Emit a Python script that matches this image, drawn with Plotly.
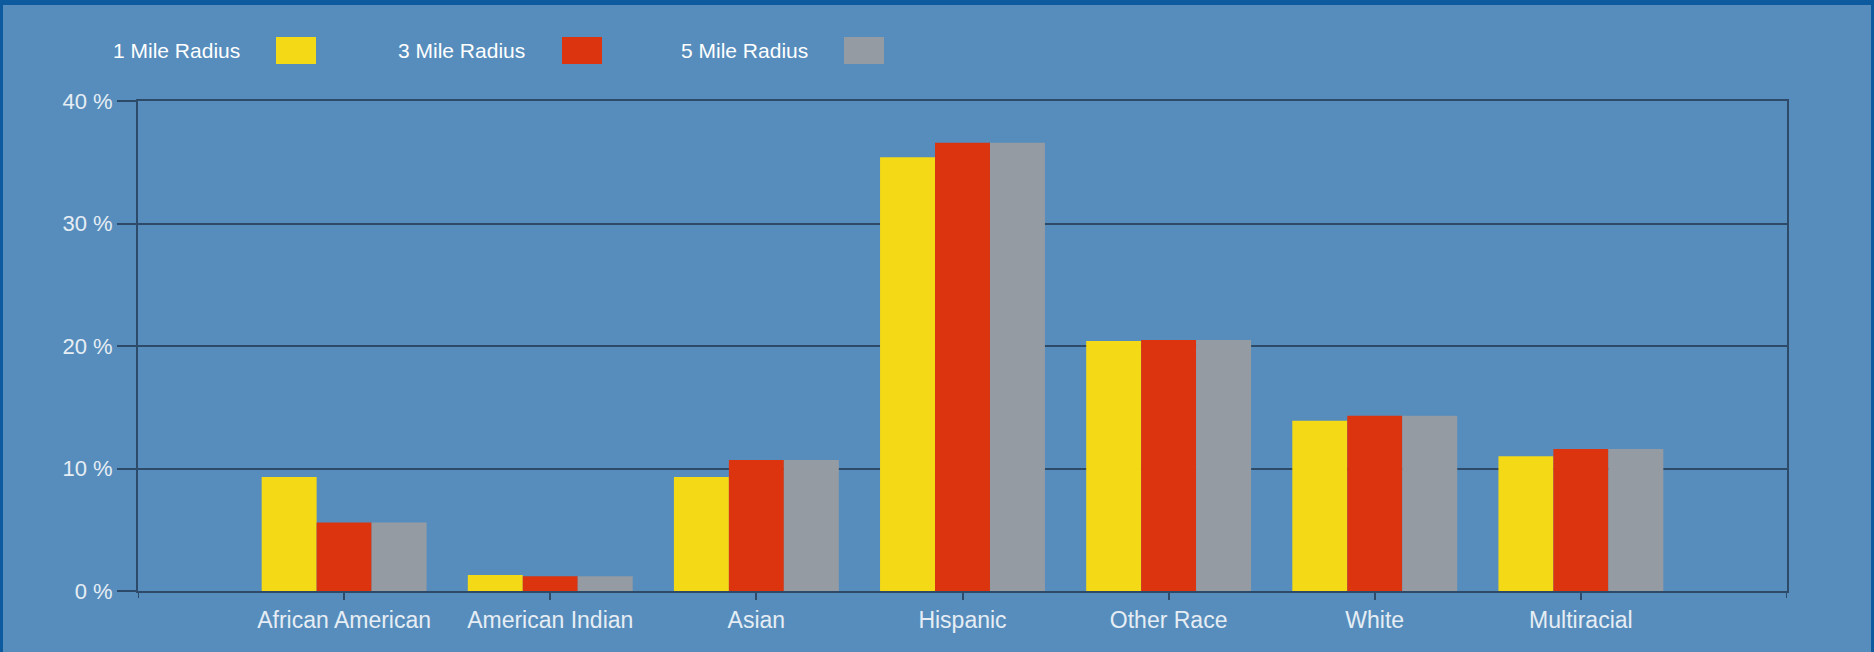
import plotly.graph_objects as go

categories = ["African American", "American Indian", "Asian", "Hispanic",
              "Other Race", "White", "Multiracial"]
mile1 = [9.3, 1.3, 9.3, 35.4, 20.4, 13.9, 11.0]
mile3 = [5.6, 1.2, 10.7, 36.6, 20.5, 14.3, 11.6]
mile5 = [5.6, 1.2, 10.7, 36.6, 20.5, 14.3, 11.6]
series_names = ["1 Mile Radius", "3 Mile Radius", "5 Mile Radius"]
series_colors = ["#f3d916", "#db340e", "#959ba3"]
y_ticks = [0, 10, 20, 30, 40]
y_tick_labels = ["0 %", "10 %", "20 %", "30 %", "40 %"]

W, H = 1874, 652
L, R, T, B = 138, 87, 101, 61
BG = "#568dbc"
DARK = "#2d4b68"
TXT = "#e6edf4"
FONT = "Liberation Sans, Arial, sans-serif"

X0, X1 = L, W - R
Y1, Y0 = T, H - B


def px(x):
    return (x - X0) / (X1 - X0)


def py(y):
    return (Y0 - y) / (Y0 - Y1)


fig = go.Figure()
for name, vals, col in zip(series_names, [mile1, mile3, mile5], series_colors):
    fig.add_trace(go.Bar(x=categories, y=vals, name=name,
                         marker=dict(color=col, line=dict(width=0))))

shapes = []
annotations = []

# page borders
shapes.append(dict(type="rect", xref="paper", yref="paper", x0=px(0), x1=px(W),
                   y0=py(5), y1=py(0), fillcolor="#0e5a9e", line=dict(width=0)))
shapes.append(dict(type="rect", xref="paper", yref="paper", x0=px(0), x1=px(3),
                   y0=py(H), y1=py(0), fillcolor="#0e5a9e", line=dict(width=0)))
shapes.append(dict(type="rect", xref="paper", yref="paper", x0=px(W - 3), x1=px(W),
                   y0=py(H), y1=py(0), fillcolor="#0e5a9e", line=dict(width=0)))

# edge ticks on x axis
for xv in [-1, len(categories)]:
    shapes.append(dict(type="line", xref="x", yref="paper", x0=xv, x1=xv,
                       y0=py(Y0), y1=py(Y0 + 7), line=dict(color=DARK, width=2)))

# custom legend: text then swatch
legend_text_x = [111, 396, 679]
legend_sw_x = [276, 562, 844]
for name, col, tx, sx in zip(series_names, series_colors, legend_text_x, legend_sw_x):
    annotations.append(dict(xref="paper", yref="paper", x=px(tx), y=py(50),
                            xanchor="left", yanchor="middle", showarrow=False,
                            text=name, font=dict(family=FONT, size=21, color="#ffffff")))
    shapes.append(dict(type="rect", xref="paper", yref="paper", x0=px(sx), x1=px(sx + 40),
                       y0=py(64), y1=py(37), fillcolor=col, line=dict(width=0)))

fig.update_layout(
    width=W, height=H,
    margin=dict(l=L, r=R, t=T, b=B, pad=0),
    paper_bgcolor=BG, plot_bgcolor=BG,
    barmode="group", bargap=0.2, bargroupgap=0,
    showlegend=False,
    font=dict(family=FONT, size=21, color=TXT),
    shapes=shapes, annotations=annotations,
    xaxis=dict(range=[-1, len(categories)], showgrid=False, showline=True,
               linecolor=DARK, linewidth=2, mirror=True,
               ticks="outside", ticklen=7, tickwidth=2, tickcolor=DARK,
               tickfont=dict(family=FONT, size=23, color=TXT)),
    yaxis=dict(range=[0, 40], tickmode="array", tickvals=y_ticks, ticktext=y_tick_labels,
               showgrid=True, gridcolor=DARK, gridwidth=2,
               showline=True, linecolor=DARK, linewidth=2, mirror=True,
               zeroline=False,
               ticks="outside", ticklen=19, tickwidth=2, tickcolor=DARK,
               tickfont=dict(family=FONT, size=22, color=TXT)),
)

fig.write_html("out.html", config={"displayModeBar": False},
               post_script="document.body.style.margin='0px';")
